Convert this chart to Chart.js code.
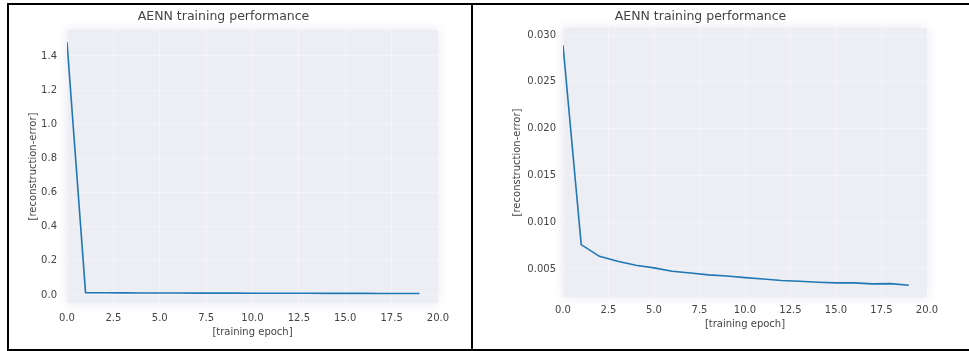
<!DOCTYPE html>
<html lang="en">
<head>
    <meta charset="UTF-8">
    <title>AENN training performance</title>
    <script src="https://cdn.jsdelivr.net/npm/chart.js"></script>
    <style>
        body { margin: 0; width: 969px; height: 351px; background: #fff; position: relative; overflow: hidden; }
        canvas { position: absolute; top: 5px; }
        #leftChart { left: 9px; }
        #rightChart { left: 474px; }
        .line { position: absolute; background: #000; }
    </style>
</head>
<body>
    <!-- table borders around the two figures -->
    <div class="line" style="left:7px; top:3px; width:962px; height:2px;"></div>
    <div class="line" style="left:7px; top:3px; width:2px; height:348px;"></div>
    <div class="line" style="left:471px; top:3px; width:2px; height:348px;"></div>
    <div class="line" style="left:7px; top:349px; width:962px; height:2px;"></div>

    <canvas id="leftChart" width="462" height="343"></canvas>
    <canvas id="rightChart" width="495" height="343"></canvas>

    <script>
        // epochs 0..19
        const epochs = [0, 1, 2, 3, 4, 5, 6, 7, 8, 9, 10, 11, 12, 13, 14, 15, 16, 17, 18, 19];

        // left run: reconstruction error per epoch
        const lossLeft = [1.48, 0.0135, 0.0128, 0.0124, 0.0120, 0.0117, 0.0114, 0.0111, 0.0108, 0.0106,
                          0.0104, 0.0101, 0.0099, 0.0097, 0.0095, 0.0093, 0.0091, 0.0089, 0.0087, 0.0085];

        // right run: reconstruction error per epoch
        const lossRight = [0.0289, 0.0076, 0.00635, 0.00582, 0.00539, 0.00511, 0.00475, 0.00457, 0.00436, 0.00425,
                           0.00407, 0.00393, 0.00376, 0.00368, 0.00358, 0.00351, 0.00351, 0.00340, 0.00343, 0.00326];

        // tick labels
        const xTicks = [0, 2.5, 5, 7.5, 10, 12.5, 15, 17.5, 20];
        const yTicksLeft = [0.0, 0.2, 0.4, 0.6, 0.8, 1.0, 1.2, 1.4];
        const yTicksRight = [0.005, 0.010, 0.015, 0.020, 0.025, 0.030];

        const textColor = '#444';
        const fontFamily = '"DejaVu Sans", sans-serif';
        const gridColor = 'rgba(255,255,255,0.35)';

        // seaborn-like plot background
        const plotBackground = {
            id: 'plotBackground',
            beforeDraw(chart) {
                const { ctx, chartArea } = chart;
                ctx.save();
                ctx.shadowColor = 'rgba(228, 228, 240, 0.9)';
                ctx.shadowBlur = 10;
                ctx.fillStyle = '#ededf4';
                ctx.fillRect(chartArea.left, chartArea.top, chartArea.right - chartArea.left, chartArea.bottom - chartArea.top);
                ctx.restore();
            }
        };

        function makeChart(canvasId, values, yMin, yMax, yTicks, yDigits, layout) {
            const ctx = document.getElementById(canvasId).getContext('2d');
            return new Chart(ctx, {
                type: 'line',
                data: {
                    datasets: [{
                        data: epochs.map((e, i) => ({ x: e, y: values[i] })),
                        borderColor: '#1f77b4',
                        borderWidth: 1.6,
                        pointRadius: 0,
                        tension: 0,
                        fill: false
                    }]
                },
                options: {
                    responsive: false,
                    animation: false,
                    layout: { padding: { left: 0, right: layout.padRight, top: 0, bottom: 0 } },
                    plugins: {
                        legend: { display: false },
                        tooltip: { enabled: false },
                        title: {
                            display: true,
                            text: 'AENN training performance',
                            color: textColor,
                            font: { family: fontFamily, size: 12.5, weight: 'normal' },
                            padding: { top: 4, bottom: layout.titleBottom }
                        }
                    },
                    scales: {
                        x: {
                            type: 'linear',
                            min: 0,
                            max: 20,
                            border: { display: false },
                            grid: { color: gridColor, drawTicks: false },
                            afterBuildTicks: (scale) => { scale.ticks = xTicks.map(v => ({ value: v })); },
                            afterFit: (scale) => { scale.height = layout.xHeight; },
                            ticks: {
                                color: textColor,
                                padding: layout.xTickPad,
                                maxRotation: 0,
                                font: { family: fontFamily, size: 10 },
                                callback: (v) => Number(v).toFixed(1)
                            },
                            title: {
                                display: true,
                                text: '[training epoch]',
                                color: textColor,
                                font: { family: fontFamily, size: 10 },
                                padding: { top: 0, bottom: layout.xTitlePad }
                            }
                        },
                        y: {
                            min: yMin,
                            max: yMax,
                            border: { display: false },
                            grid: { color: gridColor, drawTicks: false },
                            afterBuildTicks: (scale) => { scale.ticks = yTicks.map(v => ({ value: v })); },
                            afterFit: (scale) => { scale.width = layout.yWidth; },
                            ticks: {
                                color: textColor,
                                padding: layout.yTickPad,
                                font: { family: fontFamily, size: 10 },
                                callback: (v) => Number(v).toFixed(yDigits)
                            },
                            title: {
                                display: true,
                                text: '[reconstruction-error]',
                                color: textColor,
                                font: { family: fontFamily, size: 10 },
                                padding: { top: layout.yTitlePad, bottom: 0 }
                            }
                        }
                    }
                },
                plugins: [plotBackground]
            });
        }

        makeChart('leftChart', lossLeft, -0.047, 1.552, yTicksLeft, 1, {
            padRight: 33, titleBottom: 6, xHeight: 45, xTickPad: 9, xTitlePad: 9.4,
            yWidth: 58, yTickPad: 10, yTitlePad: 18
        });

        makeChart('rightChart', lossRight, 0.002, 0.03075, yTicksRight, 3, {
            padRight: 42, titleBottom: 4, xHeight: 51, xTickPad: 7, xTitlePad: 17.4,
            yWidth: 89, yTickPad: 7, yTitlePad: 37
        });
    </script>
</body>
</html>
